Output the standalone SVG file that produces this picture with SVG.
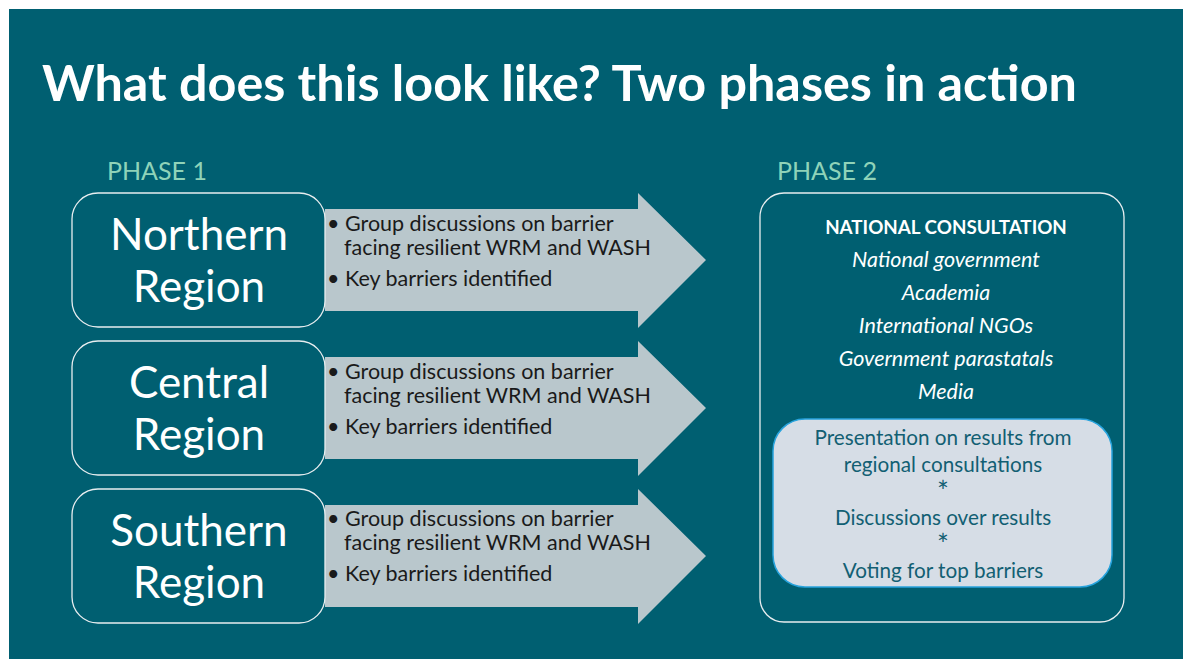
<svg xmlns="http://www.w3.org/2000/svg" width="1183" height="659" viewBox="0 0 1183 659">
<style>
text{font-family:"Lato","Noto Sans","Liberation Sans",sans-serif}
.bg{fill:#005f71}
.region{fill:#005f71;stroke:#e8eef0;stroke-width:1.3}
.rtxt{fill:#ffffff;font-size:44px;text-anchor:middle}
.arrow{fill:#b9c7cc}
.btxt{fill:#1a1a1a;font-size:21.5px}
.phase{fill:#8fd3b9;font-size:25px}
.nat{fill:#ffffff;font-size:21.5px;text-anchor:middle}
.head{fill:#ffffff;font-size:18.8px;font-weight:bold;text-anchor:middle}
.it{font-style:italic}
.inner{fill:#d6dde6;stroke:#27a3dd;stroke-width:1.5}
.itxt{fill:#125f73;font-size:20.7px;text-anchor:middle}
.ast{fill:#125f73;font-size:28px;text-anchor:middle}
</style>
<rect x="0" y="0" width="1183" height="659" fill="#ffffff"/>
<rect class="bg" x="9" y="9" width="1174" height="650"/>
<text x="42" y="101" fill="#ffffff" font-size="50" font-weight="bold" textLength="1035" lengthAdjust="spacingAndGlyphs">What does this look like? Two phases in action</text>
<text class="phase" x="107" y="180">PHASE 1</text>
<text class="phase" x="777" y="180">PHASE 2</text>
<g id="connectors">
<polygon id="arrow1" class="arrow" points="325,209 638,209 638,193 706,260 638,328 638,311 325,311"/>
<polygon id="arrow2" class="arrow" points="325,357 638,357 638,341 706,408 638,476 638,459 325,459"/>
<polygon id="arrow3" class="arrow" points="325,505 638,505 638,489 706,556 638,624 638,607 325,607"/>
</g>
<g id="northern">
<rect class="region" x="72" y="193" width="253" height="134" rx="26"/>
<text class="rtxt" x="199" y="250">Northern</text>
<text class="rtxt" x="199" y="302">Region</text>
</g>
<g id="northern-notes">
<text class="btxt" x="327" y="231">• Group discussions on barrier</text>
<text class="btxt" x="344" y="255">facing resilient WRM and WASH</text>
<text class="btxt" x="327" y="286">• Key barriers identified</text>
</g>
<g id="central">
<rect class="region" x="72" y="341" width="253" height="134" rx="26"/>
<text class="rtxt" x="199" y="398">Central</text>
<text class="rtxt" x="199" y="450">Region</text>
</g>
<g id="central-notes">
<text class="btxt" x="327" y="379">• Group discussions on barrier</text>
<text class="btxt" x="344" y="403">facing resilient WRM and WASH</text>
<text class="btxt" x="327" y="434">• Key barriers identified</text>
</g>
<g id="southern">
<rect class="region" x="72" y="489" width="253" height="134" rx="26"/>
<text class="rtxt" x="199" y="546">Southern</text>
<text class="rtxt" x="199" y="598">Region</text>
</g>
<g id="southern-notes">
<text class="btxt" x="327" y="526">• Group discussions on barrier</text>
<text class="btxt" x="344" y="550">facing resilient WRM and WASH</text>
<text class="btxt" x="327" y="581">• Key barriers identified</text>
</g>
<g id="national">
<rect class="region" x="760" y="193" width="364" height="429" rx="24"/>
<text class="head" x="946" y="234">NATIONAL CONSULTATION</text>
<text class="nat it" x="946" y="267">National government</text>
<text class="nat it" x="946" y="300">Academia</text>
<text class="nat it" x="946" y="333">International NGOs</text>
<text class="nat it" x="946" y="366">Government parastatals</text>
<text class="nat it" x="946" y="399">Media</text>
</g>
<g id="national-activities">
<rect class="inner" x="773" y="419" width="339" height="168" rx="32"/>
<text class="itxt" x="943" y="445">Presentation on results from</text>
<text class="itxt" x="943" y="472">regional consultations</text>
<text class="ast" x="943" y="502">*</text>
<text class="itxt" x="943" y="525">Discussions over results</text>
<text class="ast" x="943" y="555">*</text>
<text class="itxt" x="943" y="578">Voting for top barriers</text>
</g>
</svg>
